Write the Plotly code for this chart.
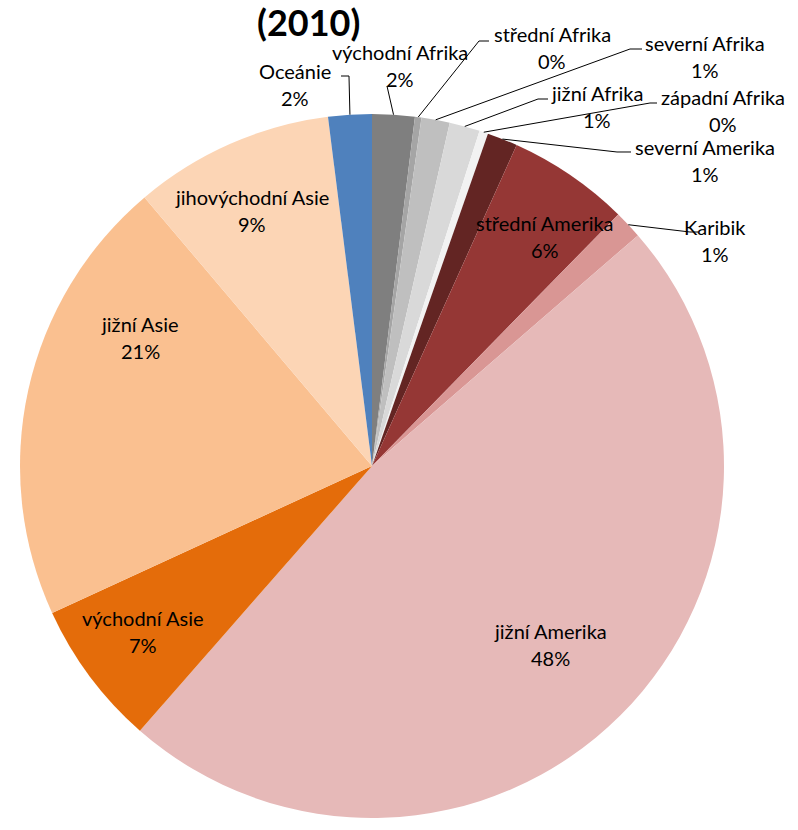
import math
import plotly.graph_objects as go

# ---- data ----
regions = ["východní Afrika", "střední Afrika", "severní Afrika", "jižní Afrika",
           "západní Afrika", "severní Amerika", "střední Amerika", "Karibik",
           "jižní Amerika", "východní Asie", "jižní Asie", "jihovýchodní Asie", "Oceánie"]
shares = [1.95, 0.3, 1.3, 1.4, 0.4, 1.4, 5.6, 1.3, 47.9, 6.7, 20.7, 9.2, 2.0]
title_text = "(2010)"

# ---- style ----
colors = ["#7f7f7f", "#a5a5a5", "#bfbfbf", "#d9d9d9", "#f2f2f2", "#632523",
          "#953735", "#d99694", "#e6b9b8", "#e46c0a", "#fac090", "#fcd5b5", "#4f81bd"]

W, H = 798, 830
CX, CY, R = 372, 466, 352
FONT = "Lato"
FS = 20

def px(x):
    return x / W

def py(y):
    return 1 - y / H

# label layout (pixel centres of name line), leader start/elbow for outside labels
label_layout = {
    "jihovýchodní Asie": dict(pos=(252, 197)),
    "jižní Asie": dict(pos=(140, 324)),
    "východní Asie": dict(pos=(143, 618)),
    "jižní Amerika": dict(pos=(550, 631)),
    "střední Amerika": dict(pos=(545, 223)),
    "Oceánie": dict(pos=(295, 71), leader=[(341, 76), (349, 76)]),
    "východní Afrika": dict(pos=(400, 52), leader=[(387, 86)]),
    "střední Afrika": dict(pos=(552, 34), leader=[(489, 41), (479, 41)]),
    "severní Afrika": dict(pos=(705, 43), leader=[(642, 49), (630, 49)]),
    "jižní Afrika": dict(pos=(597, 93), leader=[(548, 99), (538, 99)]),
    "západní Afrika": dict(pos=(723, 97), leader=[(657, 103), (650, 103)]),
    "severní Amerika": dict(pos=(705, 147), leader=[(631, 152), (617, 152)]),
    "Karibik": dict(pos=(715, 227), leader=[(698, 232), (690, 232)]),
}

total = sum(shares)

fig = go.Figure(go.Pie(
    labels=regions, values=shares, sort=False, direction="clockwise", rotation=0,
    marker=dict(colors=colors, line=dict(width=0)),
    textinfo="none", hoverinfo="label+percent", showlegend=False,
    domain=dict(x=[px(CX - R), px(CX + R)], y=[py(CY + R), py(CY - R)]),
))

annotations = []
shapes = []
cum = 0.0
for name, v in zip(regions, shares):
    mid = (cum + v / 2) / total * 2 * math.pi
    cum += v
    ax = CX + R * math.sin(mid)
    ay = CY - R * math.cos(mid)
    lay = label_layout[name]
    x, y = lay["pos"]
    pct = f"{round(v / total * 100)}%"
    annotations.append(dict(x=px(x), y=py(y), xref="paper", yref="paper", text=name,
                            showarrow=False, font=dict(family=FONT, size=FS, color="#000"),
                            xanchor="center", yanchor="middle"))
    annotations.append(dict(x=px(x), y=py(y + 27), xref="paper", yref="paper", text=pct,
                            showarrow=False, font=dict(family=FONT, size=FS, color="#000"),
                            xanchor="center", yanchor="middle"))
    if "leader" in lay:
        pts = lay["leader"] + [(ax, ay)]
        path = "M " + " L ".join(f"{px(a):.5f},{py(b):.5f}" for a, b in pts)
        shapes.append(dict(type="path", path=path, xref="paper", yref="paper",
                           line=dict(color="#000", width=1)))

annotations.append(dict(x=px(308), y=py(22), xref="paper", yref="paper", text="<b>" + title_text + "</b>",
                        showarrow=False, font=dict(family=FONT, size=36, color="#000"),
                        xanchor="center", yanchor="middle"))

fig.update_layout(width=W, height=H, margin=dict(l=0, r=0, t=0, b=0),
                  paper_bgcolor="white", plot_bgcolor="white",
                  annotations=annotations, shapes=shapes)

fig.write_html("out.html", config={"displayModeBar": False},
               post_script="document.body.style.margin='0';document.body.style.padding='0';")
